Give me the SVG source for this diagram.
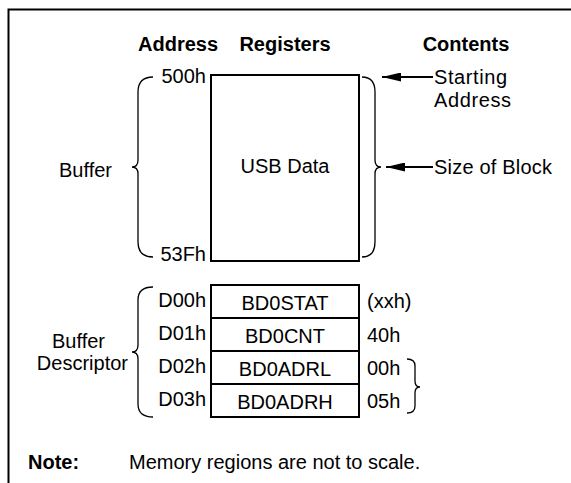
<svg xmlns="http://www.w3.org/2000/svg" width="571" height="483" viewBox="0 0 571 483">
<style>
text{font-family:"Liberation Sans",Arial,sans-serif;font-size:20px;fill:#000}
.b{font-weight:bold}
.m{text-anchor:middle}
.e{text-anchor:end}
.box{fill:#fff;stroke:#000;stroke-width:2}
.br{fill:none;stroke:#000;stroke-width:1.3}
.ln{fill:none;stroke:#000;stroke-width:2}
</style>
<defs>
<marker id="ah" markerUnits="userSpaceOnUse" viewBox="0 0 19 9" refX="19" refY="4.5" markerWidth="19" markerHeight="9" orient="auto">
<path d="M0,0 L19,4.5 L0,9 z" fill="#000"/>
</marker>
</defs>
<rect width="571" height="483" fill="#fff"/>
<path class="ln" d="M8.5,483 V9.5 H571"/>
<g id="headers">
<text class="b" x="138" y="51">Address</text>
<text class="b m" x="285" y="51">Registers</text>
<text class="b m" x="466" y="51">Contents</text>
</g>
<g id="buffer">
<rect class="box" x="211" y="75" width="148" height="186"/>
<text class="m" x="285" y="173">USB Data</text>
<text class="e" x="206" y="83">500h</text>
<text class="e" x="206" y="261">53Fh</text>
<path class="br" d="M153,77 Q138,77 138,92 V160 Q138,167 132,167 Q138,167 138,174 V242 Q138,257 153,257"/>
<text x="59" y="177">Buffer</text>
<path class="br" d="M362,77 Q375,77 375,92 V160 Q375,167 381,167 Q375,167 375,174 V242 Q375,257 362,257"/>
</g>
<g id="starting-address">
<text x="434" y="84" textLength="73">Starting</text>
<text x="434" y="107" textLength="77">Address</text>
</g>
<g id="size-of-block">
<text x="434" y="174" textLength="118">Size of Block</text>
</g>
<g id="connectors">
<path class="ln" d="M433,77 H382" marker-end="url(#ah)"/>
<path class="ln" d="M433,167 H386" marker-end="url(#ah)"/>
</g>
<g id="buffer-descriptor">
<rect class="box" x="211" y="285" width="148" height="33"/>
<rect class="box" x="211" y="318" width="148" height="33"/>
<rect class="box" x="211" y="351" width="148" height="33"/>
<rect class="box" x="211" y="384" width="148" height="33"/>
<text class="m" x="285" y="310">BD0STAT</text>
<text class="m" x="285" y="343">BD0CNT</text>
<text class="m" x="285" y="376">BD0ADRL</text>
<text class="m" x="285" y="409">BD0ADRH</text>
<text class="e" x="206" y="307">D00h</text>
<text class="e" x="206" y="340">D01h</text>
<text class="e" x="206" y="373">D02h</text>
<text class="e" x="206" y="406">D03h</text>
<text x="367" y="308">(xxh)</text>
<text x="367" y="342">40h</text>
<text x="367" y="375">00h</text>
<text x="367" y="408">05h</text>
<path class="br" d="M153,287 Q138,287 138,300 V345 Q138,352 132,352 Q138,352 138,359 V404 Q138,417 153,417"/>
<text x="52" y="348">Buffer</text>
<text class="e" x="128" y="370">Descriptor</text>
<path class="br" d="M407,359 Q415,359 415,366 V381 Q415,387 420,387 Q415,387 415,393 V406 Q415,413 407,413"/>
</g>
<g id="note">
<text class="b" x="28" y="469">Note:</text>
<text x="129" y="469">Memory regions are not to scale.</text>
</g>
</svg>
